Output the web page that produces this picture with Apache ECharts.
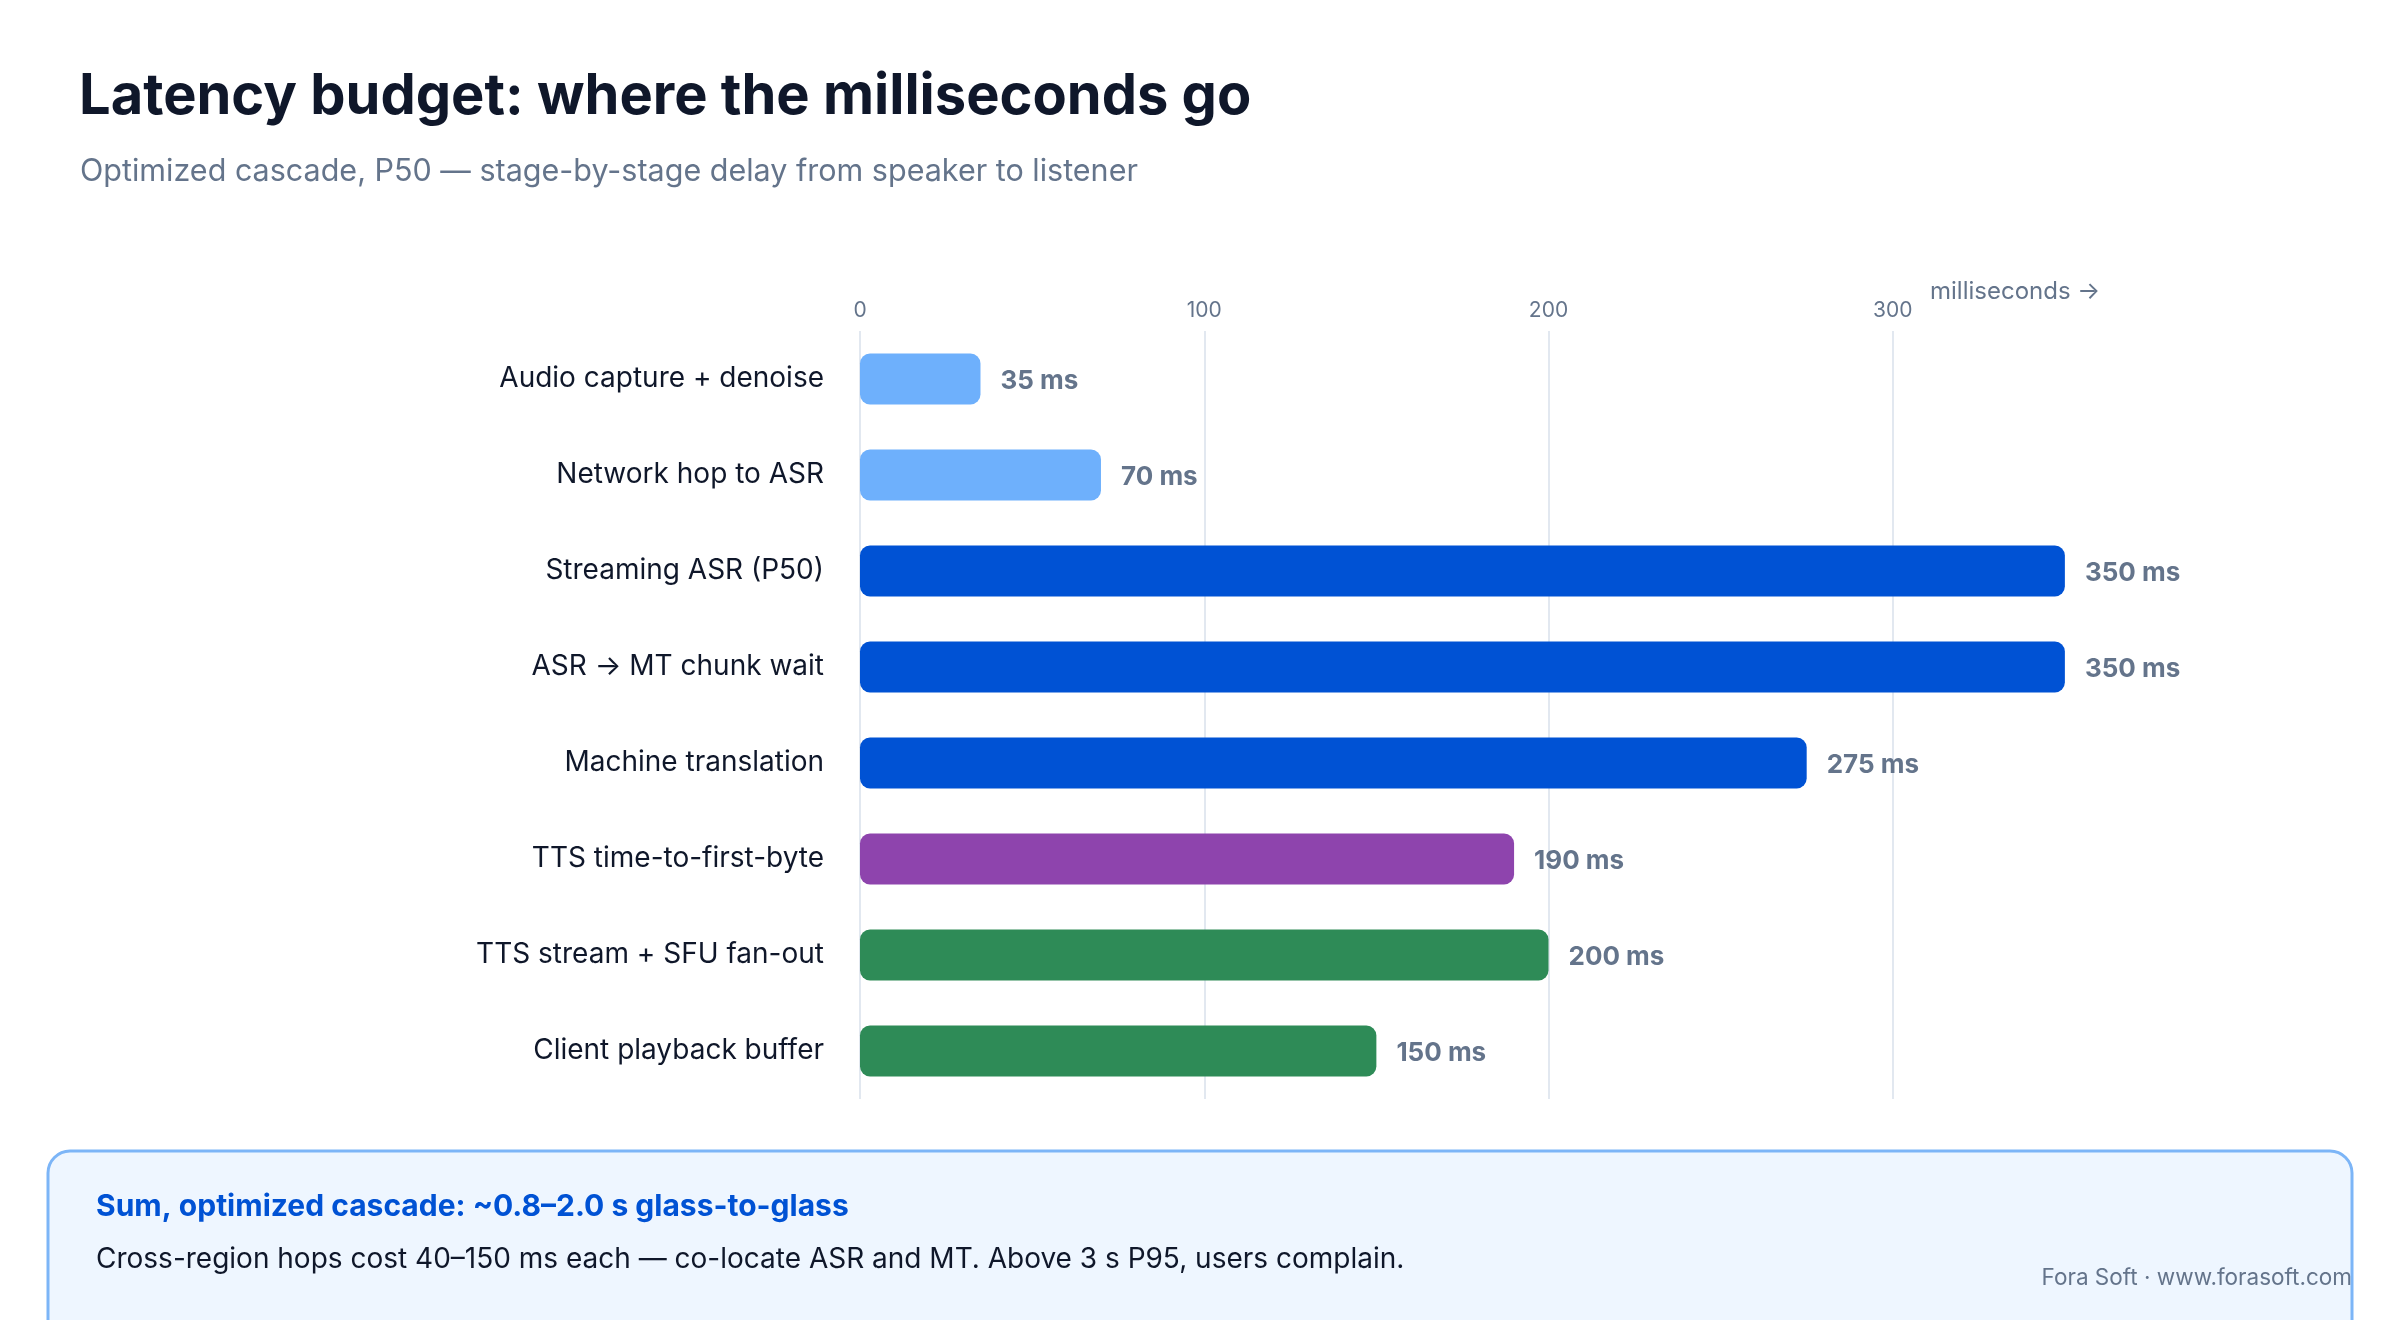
<!DOCTYPE html>
<html>
<head>
<meta charset="utf-8">
<style>
  html, body { margin: 0; padding: 0; background: #ffffff; }
  #chart { width: 2400px; height: 1320px; }
</style>
<script src="https://cdn.jsdelivr.net/npm/echarts@6/dist/echarts.min.js"></script>
</head>
<body>
<div id="chart"></div>
<script>
// stages, top to bottom
const stages = [
  'Audio capture + denoise',
  'Network hop to ASR',
  'Streaming ASR (P50)',
  'ASR \u2192 MT chunk wait',
  'Machine translation',
  'TTS time-to-first-byte',
  'TTS stream + SFU fan-out',
  'Client playback buffer'
];
const latencyMs = [35, 70, 350, 350, 275, 190, 200, 150];
const stageGroup = ['input', 'input', 'text', 'text', 'text', 'speech', 'delivery', 'delivery'];
const tickValues = [0, 100, 200, 300];

const groupColors = {
  input: '#6eb0fc',
  text: '#0052d4',
  speech: '#8e44ad',
  delivery: '#2e8b57'
};

const FONT = 'Inter, "Noto Sans", sans-serif';

let myChart = echarts.init(document.getElementById('chart'));

let option = {
  backgroundColor: '#ffffff',
  textStyle: { fontFamily: FONT },
  title: [
    {
      text: 'Latency budget: where the milliseconds go',
      left: 74,
      top: 64,
      textStyle: { fontSize: 56, fontWeight: 'bold', color: '#0f172a', fontFamily: FONT }
    },
    {
      text: 'Optimized cascade, P50 \u2014 stage-by-stage delay from speaker to listener',
      left: 75,
      top: 151,
      textStyle: { fontSize: 30.5, fontWeight: 'normal', color: '#64748b', fontFamily: FONT }
    }
  ],
  grid: {
    left: 860,
    right: 163,
    top: 331,
    bottom: 221
  },
  xAxis: {
    type: 'value',
    position: 'top',
    min: 0,
    max: 400,
    interval: 100,
    axisLine: { show: false },
    axisTick: { show: false, customValues: tickValues },
    axisLabel: {
      customValues: tickValues,
      color: '#64748b',
      fontSize: 21,
      margin: 10,
      fontFamily: FONT
    },
    splitLine: { show: true, lineStyle: { color: '#e2e8f0', width: 2 } }
  },
  yAxis: {
    type: 'category',
    data: stages,
    inverse: true,
    axisLine: { show: false },
    axisTick: { show: false },
    axisLabel: {
      color: '#0f172a',
      fontSize: 28,
      margin: 36,
      fontFamily: FONT
    }
  },
  series: [
    {
      type: 'bar',
      barWidth: 51,
      data: latencyMs.map((v, i) => ({
        value: v,
        itemStyle: { color: groupColors[stageGroup[i]] }
      })),
      itemStyle: { borderRadius: 10 },
      label: {
        show: true,
        position: 'right',
        distance: 20,
        offset: [0, 2],
        formatter: p => p.value + ' ms',
        color: '#64748b',
        fontSize: 26,
        fontWeight: 'bold',
        fontFamily: FONT
      }
    }
  ],
  graphic: [
    {
      type: 'text',
      left: 1930,
      top: 280,
      style: {
        text: 'milliseconds \u2192',
        fill: '#64748b',
        font: '24px ' + FONT
      }
    },
    {
      type: 'rect',
      shape: { x: 48, y: 1151, width: 2304, height: 240, r: 22 },
      style: { fill: '#eef6ff', stroke: '#7cb5f7', lineWidth: 3 }
    },
    {
      type: 'text',
      left: 96,
      top: 1192,
      style: {
        text: 'Sum, optimized cascade: ~0.8\u20132.0 s glass-to-glass',
        fill: '#0052d4',
        font: 'bold 30px ' + FONT
      }
    },
    {
      type: 'text',
      left: 96,
      top: 1246,
      style: {
        text: 'Cross-region hops cost 40\u2013150 ms each \u2014 co-locate ASR and MT. Above 3 s P95, users complain.',
        fill: '#0f172a',
        font: '28px ' + FONT
      }
    },
    {
      type: 'text',
      right: 48,
      top: 1267,
      style: {
        text: 'Fora Soft \u00b7 www.forasoft.com',
        fill: '#64748b',
        font: '22.5px ' + FONT
      }
    }
  ]
};

myChart.setOption(option);
</script>
</body>
</html>
